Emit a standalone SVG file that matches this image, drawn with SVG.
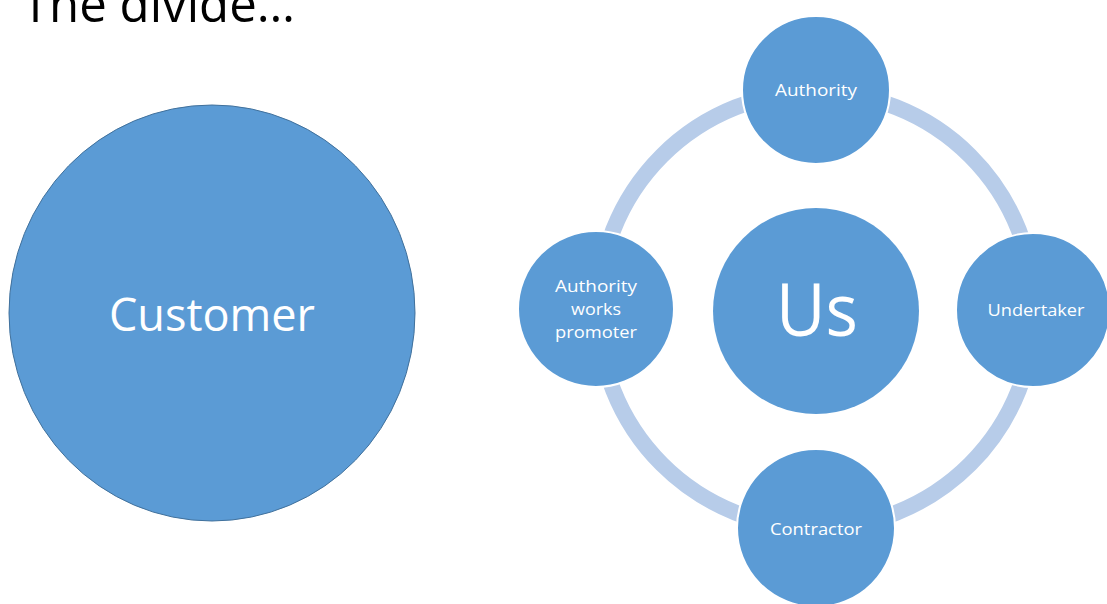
<svg xmlns="http://www.w3.org/2000/svg" width="1107" height="604" viewBox="0 0 1107 604">
<style>
.t{font-family:"Open Sans","Noto Sans","Liberation Sans",sans-serif;fill:#ffffff;text-anchor:middle}
.node{fill:#5b9bd5;stroke:#ffffff;stroke-width:2}
.ring{fill:none;stroke:#b7cce9;stroke-width:16}
</style>
<rect width="1107" height="604" fill="#ffffff"/>
<text x="22" y="22" font-family="'Open Sans','Noto Sans',sans-serif" font-size="50" fill="#000000" textLength="273" lengthAdjust="spacingAndGlyphs">The divide…</text>
<g id="customer">
<ellipse cx="212" cy="313" rx="203" ry="208" fill="#5b9bd5" stroke="#41719c" stroke-width="1"/>
<text class="t" x="212" y="331" font-size="46" textLength="206" lengthAdjust="spacingAndGlyphs">Customer</text>
</g>
<g id="connectors">
<circle class="ring" cx="816" cy="310" r="218"/>
</g>
<g id="us">
<circle cx="816" cy="311" r="103" fill="#5b9bd5"/>
<text class="t" x="817" y="336" font-size="74" textLength="82" lengthAdjust="spacingAndGlyphs">Us</text>
</g>
<g id="authority">
<circle class="node" cx="816" cy="90" r="74"/>
<text class="t" x="816" y="96" font-size="17" textLength="82" lengthAdjust="spacingAndGlyphs">Authority</text>
</g>
<g id="authority-works-promoter">
<circle class="node" cx="596" cy="309" r="78"/>
<text class="t" x="596" y="292" font-size="17" textLength="82" lengthAdjust="spacingAndGlyphs">Authority</text>
<text class="t" x="596" y="315" font-size="17" textLength="50" lengthAdjust="spacingAndGlyphs">works</text>
<text class="t" x="596" y="338" font-size="17" textLength="82" lengthAdjust="spacingAndGlyphs">promoter</text>
</g>
<g id="undertaker">
<circle class="node" cx="1033" cy="310" r="77"/>
<text class="t" x="1036" y="316" font-size="17" textLength="97" lengthAdjust="spacingAndGlyphs">Undertaker</text>
</g>
<g id="contractor">
<circle class="node" cx="816" cy="528" r="79"/>
<text class="t" x="816" y="535" font-size="17" textLength="92" lengthAdjust="spacingAndGlyphs">Contractor</text>
</g>
</svg>
